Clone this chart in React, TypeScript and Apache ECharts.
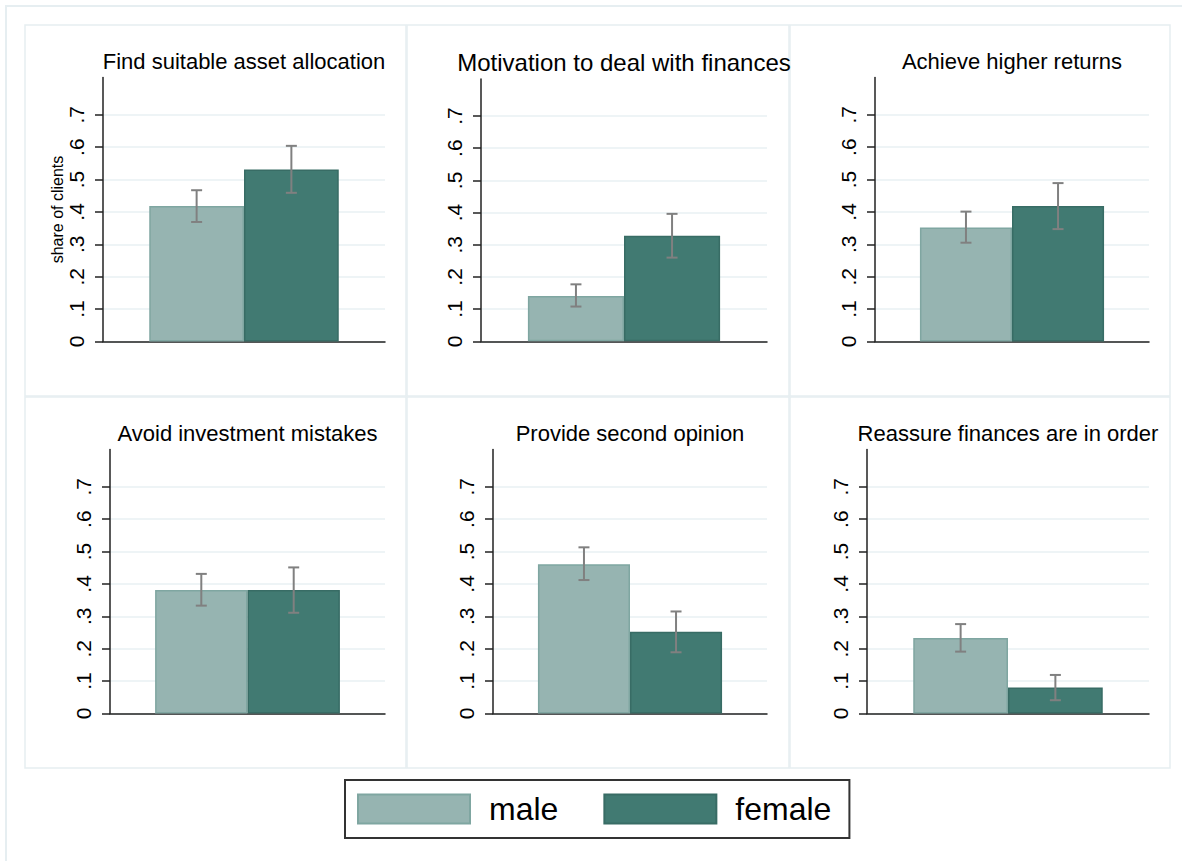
import React, { useEffect, useRef } from "react";
import * as echarts from "echarts";

const panelTitles = [
  "Find suitable asset allocation",
  "Motivation to deal with finances",
  "Achieve higher returns",
  "Avoid investment mistakes",
  "Provide second opinion",
  "Reassure finances are in order",
];
const seriesNames = ["male", "female"];
const maleShare = [0.418, 0.141, 0.352, 0.381, 0.461, 0.233];
const femaleShare = [0.531, 0.328, 0.418, 0.381, 0.252, 0.08];
const maleLow = [0.369, 0.108, 0.305, 0.333, 0.412, 0.191];
const maleHigh = [0.467, 0.177, 0.401, 0.431, 0.513, 0.276];
const femaleLow = [0.459, 0.26, 0.347, 0.311, 0.189, 0.041];
const femaleHigh = [0.604, 0.396, 0.489, 0.451, 0.315, 0.119];
const yTickValues = [0, 0.1, 0.2, 0.3, 0.4, 0.5, 0.6, 0.7];
const yTickLabels = ["0", ".1", ".2", ".3", ".4", ".5", ".6", ".7"];
const yAxisTitle = "share of clients";

// layout (pixels)
const gridLefts = [103, 481, 875, 110, 493, 867];
const gridWidths = [282, 286, 274, 275, 274, 282];
const gridTops = [77.5, 79, 77.5, 449.5, 449.5, 449.5];
const gridHeights = [264, 262.3, 264, 264, 264, 264];
const titleYs = [61, 62, 61, 433, 433, 433];
const titleSizes = [22, 24, 22, 22, 22, 22];
const panelXs = [25, 407, 790];
const panelWs = [381, 382, 380];
const panelYs = [25, 397];
const panelH = 371;

const MALE = "#96b4b1";
const MALE_BORDER = "#7fa6a1";
const FEMALE = "#417a72";
const FEMALE_BORDER = "#386c65";
const FONT = "'Liberation Sans', Arial, Helvetica, sans-serif";

export default function App() {
  const ref = useRef<HTMLDivElement>(null);

  useEffect(() => {
    if (!ref.current) return;
    const chart = echarts.init(ref.current, undefined, { renderer: "svg" });

    const grids: any[] = [];
    const xAxes: any[] = [];
    const yAxes: any[] = [];
    const series: any[] = [];
    const graphics: any[] = [];

    graphics.push({
      type: "rect",
      silent: true,
      shape: { x: 6, y: 6, width: 1200, height: 900 },
      style: { fill: "none", stroke: "#e6eef1", lineWidth: 2 },
      z: -10,
    });
    panelYs.forEach((py) => {
      panelXs.forEach((px, ci) => {
        graphics.push({
          type: "rect",
          silent: true,
          shape: { x: px, y: py, width: panelWs[ci], height: panelH },
          style: { fill: "none", stroke: "#e6eef1", lineWidth: 1.5 },
          z: -10,
        });
      });
    });

    panelTitles.forEach((title, i) => {
      grids.push({
        left: gridLefts[i],
        top: gridTops[i],
        width: gridWidths[i],
        height: gridHeights[i],
        containLabel: false,
      });
      xAxes.push({
        gridIndex: i,
        type: "category",
        data: [title],
        axisLine: { show: true, onZero: false, lineStyle: { color: "#222", width: 1.5 } },
        axisTick: { show: false },
        axisLabel: { show: false },
        splitLine: { show: false },
      });
      yAxes.push({
        gridIndex: i,
        type: "value",
        min: 0,
        max: 0.815,
        name: i === 0 ? yAxisTitle : "",
        nameLocation: "middle",
        nameGap: 32,
        nameRotate: 90,
        nameTextStyle: { fontSize: 16, color: "#000", fontFamily: FONT },
        axisLine: { show: true, lineStyle: { color: "#222", width: 1.5 } },
        axisTick: {
          show: true,
          length: 8,
          customValues: yTickValues,
          lineStyle: { color: "#222", width: 1.5 },
        },
        axisLabel: {
          customValues: yTickValues,
          rotate: 90,
          margin: 16,
          fontSize: 21,
          color: "#000",
          fontFamily: FONT,
          formatter: (v: number) => {
            const k = yTickValues.findIndex((t) => Math.abs(t - v) < 1e-6);
            return k >= 0 ? yTickLabels[k] : "";
          },
        },
        splitLine: { show: true, lineStyle: { color: "#e9f1f3", width: 1.5 } },
      });
      series.push({
        name: seriesNames[0],
        type: "bar",
        xAxisIndex: i,
        yAxisIndex: i,
        data: [maleShare[i]],
        barGap: "0%",
        barCategoryGap: "32.8%",
        itemStyle: { color: MALE, borderColor: MALE_BORDER, borderWidth: 1.5 },
      });
      series.push({
        name: seriesNames[1],
        type: "bar",
        xAxisIndex: i,
        yAxisIndex: i,
        data: [femaleShare[i]],
        barGap: "0%",
        barCategoryGap: "32.8%",
        itemStyle: { color: FEMALE, borderColor: FEMALE_BORDER, borderWidth: 1.5 },
      });
      series.push({
        type: "custom",
        xAxisIndex: i,
        yAxisIndex: i,
        silent: true,
        z: 5,
        data: [
          [0, maleLow[i], maleHigh[i], -1],
          [0, femaleLow[i], femaleHigh[i], 1],
        ],
        renderItem: (params: any, api: any) => {
          const lo = api.coord([api.value(0), api.value(1)]);
          const hi = api.coord([api.value(0), api.value(2)]);
          const band = api.size([1, 0])[0];
          const x = lo[0] + api.value(3) * band * 0.168;
          const cap = 5.5;
          const st = { stroke: "#808080", lineWidth: 2 };
          return {
            type: "group",
            children: [
              { type: "line", shape: { x1: x, y1: lo[1], x2: x, y2: hi[1] }, style: st },
              { type: "line", shape: { x1: x - cap, y1: lo[1], x2: x + cap, y2: lo[1] }, style: st },
              { type: "line", shape: { x1: x - cap, y1: hi[1], x2: x + cap, y2: hi[1] }, style: st },
            ],
          };
        },
      });
      graphics.push({
        type: "text",
        silent: true,
        x: gridLefts[i] + gridWidths[i] / 2,
        y: titleYs[i],
        style: {
          text: title,
          fontSize: titleSizes[i],
          fontFamily: FONT,
          fill: "#000",
          textAlign: "center",
          textVerticalAlign: "middle",
        },
      });
    });

    chart.setOption({
      animation: false,
      backgroundColor: "#ffffff",
      textStyle: { fontFamily: FONT },
      grid: grids,
      xAxis: xAxes,
      yAxis: yAxes,
      series,
      graphic: graphics,
      legend: {
        data: seriesNames,
        left: 345,
        top: 780,
        orient: "horizontal",
        icon: "rect",
        itemWidth: 112,
        itemHeight: 29,
        itemGap: 45,
        padding: [13, 18, 13, 12],
        borderColor: "#333",
        borderWidth: 2,
        selectedMode: false,
        textStyle: { fontSize: 32, color: "#000", fontFamily: FONT, padding: [0, 0, 0, 14] },
      },
      tooltip: { show: false },
    });

    return () => chart.dispose();
  }, []);

  return (
    <div
      ref={ref}
      style={{ position: "absolute", left: 0, top: 0, width: 1182, height: 861, background: "#fff" }}
    />
  );
}
